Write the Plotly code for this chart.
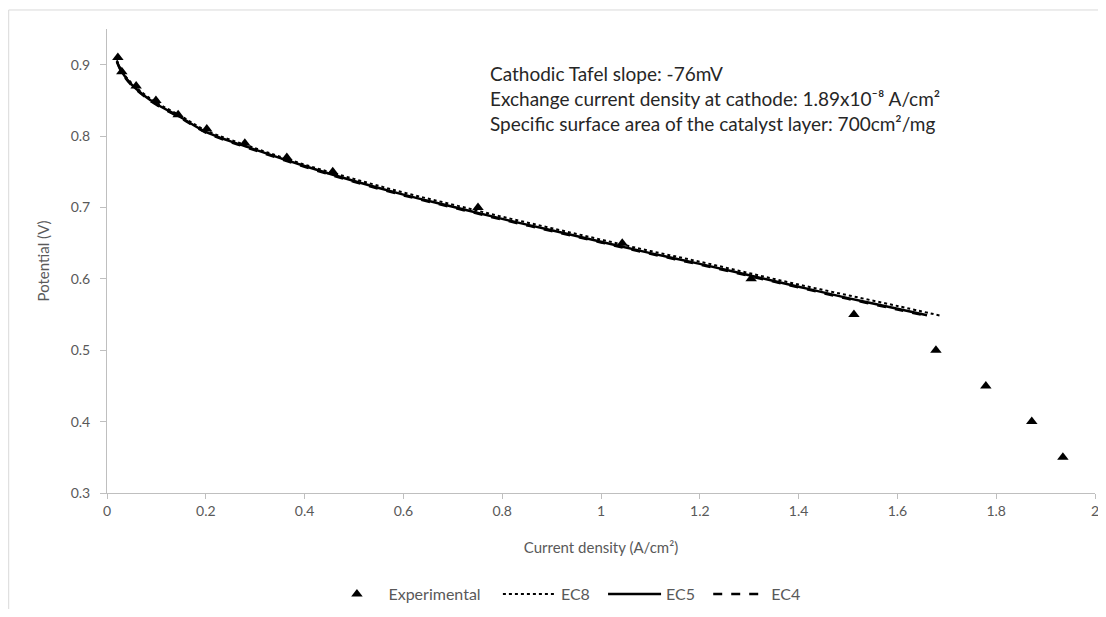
import plotly.graph_objects as go

# Experimental data
exp_x = [0.022, 0.030, 0.059, 0.099, 0.144, 0.202, 0.279, 0.364, 0.457, 0.751, 1.043, 1.304, 1.512, 1.678, 1.779, 1.872, 1.935]
exp_y = [0.91, 0.89, 0.87, 0.85, 0.83, 0.81, 0.79, 0.77, 0.75, 0.70, 0.65, 0.60, 0.55, 0.50, 0.45, 0.40, 0.35]

# Model curves
ec5_x = [0.02, 0.03, 0.05, 0.075, 0.1, 0.15, 0.2, 0.3, 0.4, 0.5, 0.6, 0.7, 0.8, 0.9, 1.0, 1.1, 1.2, 1.3, 1.4, 1.5, 1.6, 1.66]
ec5_y = [0.905, 0.890, 0.872, 0.857, 0.845, 0.826, 0.806, 0.781, 0.758, 0.737, 0.718, 0.701, 0.684, 0.668, 0.652, 0.636, 0.621, 0.605, 0.589, 0.573, 0.558, 0.549]

ec4_x = [0.02, 0.03, 0.05, 0.075, 0.1, 0.15, 0.2, 0.3, 0.4, 0.5, 0.6, 0.7, 0.8, 0.9, 1.0, 1.1, 1.2, 1.3, 1.4, 1.5, 1.6, 1.66]
ec4_y = [0.904, 0.889, 0.871, 0.856, 0.844, 0.825, 0.805, 0.780, 0.757, 0.736, 0.717, 0.700, 0.683, 0.667, 0.651, 0.635, 0.620, 0.604, 0.588, 0.572, 0.557, 0.548]

ec8_x = [0.02, 0.03, 0.05, 0.075, 0.1, 0.15, 0.2, 0.3, 0.4, 0.5, 0.6, 0.7, 0.8, 0.9, 1.0, 1.1, 1.2, 1.3, 1.4, 1.5, 1.6, 1.69]
ec8_y = [0.906, 0.891, 0.874, 0.859, 0.847, 0.828, 0.808, 0.783, 0.760, 0.740, 0.721, 0.704, 0.687, 0.671, 0.655, 0.639, 0.624, 0.608, 0.592, 0.577, 0.562, 0.548]

x_ticks = [0, 0.2, 0.4, 0.6, 0.8, 1, 1.2, 1.4, 1.6, 1.8, 2]
y_ticks = [0.3, 0.4, 0.5, 0.6, 0.7, 0.8, 0.9]

notes = [
    "Cathodic Tafel slope: -76mV",
    "Exchange current density at cathode: 1.89x10⁻⁸ A/cm²",
    "Specific surface area of the catalyst layer: 700cm²/mg",
]

FONT = "Lato"
GRAY = "#595959"
NB = "\u00a0"

fig = go.Figure()
fig.add_trace(go.Scatter(x=exp_x, y=exp_y, mode="markers", name="Experimental" + NB * 3,
                         marker=dict(symbol="triangle-up", size=10, color="black")))
fig.add_trace(go.Scatter(x=ec8_x, y=ec8_y, mode="lines", name="EC8" + NB * 2, line_shape="spline",
                         line=dict(color="black", width=2, dash="dot")))
fig.add_trace(go.Scatter(x=ec5_x, y=ec5_y, mode="lines", name="EC5" + NB * 2, line_shape="spline",
                         line=dict(color="black", width=2.5)))
fig.add_trace(go.Scatter(x=ec4_x, y=ec4_y, mode="lines", name="EC4", line_shape="spline",
                         line=dict(color="black", width=2.5, dash="dash")))

for i, t in enumerate(notes):
    fig.add_annotation(text=t, xref="paper", yref="paper", x=0.386, y=0.905 - i * 0.054,
                       xanchor="left", yanchor="middle", showarrow=False,
                       font=dict(family=FONT, size=19, color="#262626"))

# chart-area border (top and left)
fig.add_shape(type="line", xref="paper", yref="paper", x0=-0.0995, x1=1.02, y0=1.041, y1=1.041,
              line=dict(color="#d9d9d9", width=1))
fig.add_shape(type="line", xref="paper", yref="paper", x0=-0.0995, x1=-0.0995, y0=-0.3, y1=1.041,
              line=dict(color="#d9d9d9", width=1))

fig.update_layout(
    width=1094, height=601,
    margin=dict(l=99, r=7, t=21, b=116, autoexpand=False),
    paper_bgcolor="white", plot_bgcolor="white",
    font=dict(family=FONT, size=14, color=GRAY),
    showlegend=True,
    legend=dict(orientation="h", x=0.464, xanchor="center", y=-0.218, yanchor="middle",
                font=dict(family=FONT, size=16, color=GRAY), itemwidth=53),
    xaxis=dict(range=[0, 2], tickvals=x_ticks, ticktext=[str(v) for v in x_ticks],
               showgrid=False, zeroline=False, showline=True, linecolor="#bfbfbf",
               ticks="outside", ticklen=5, tickcolor="#bfbfbf", ticklabeloverflow="allow",
               title=dict(text="Current density (A/cm²)", font=dict(family=FONT, size=15, color=GRAY), standoff=24)),
    yaxis=dict(range=[0.3, 0.95], tickvals=y_ticks, ticktext=[str(v) for v in y_ticks],
               showgrid=False, zeroline=False, showline=True, linecolor="#bfbfbf",
               ticks="outside", ticklen=6, tickcolor="#bfbfbf", ticklabelstandoff=7,
               title=dict(text="Potential (V)", font=dict(family=FONT, size=15, color=GRAY), standoff=17)),
)

fig.write_html("out.html")
